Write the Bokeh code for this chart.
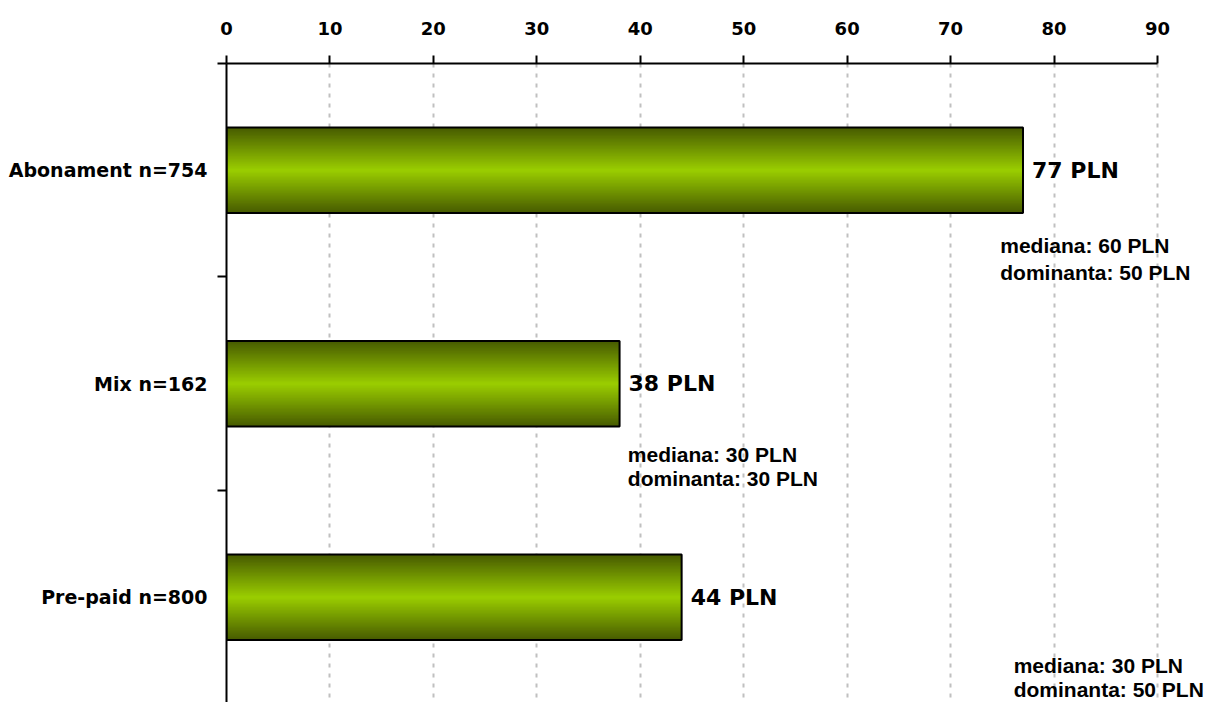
from bokeh.plotting import figure
from bokeh.models import ColumnDataSource, LabelSet, FixedTicker, Range1d
from bokeh.core.properties import value
from bokeh.embed import file_html
from bokeh.resources import INLINE

# ---- data ----
categories = ["Abonament n=754", "Mix n=162", "Pre-paid n=800"]
means = [77, 38, 44]
medians = [60, 30, 30]
modes = [50, 30, 50]
x_ticks = [0, 10, 20, 30, 40, 50, 60, 70, 80, 90]

ypos = list(range(len(categories)))

W, H = 1209, 702
p = figure(width=W, height=H, output_backend="svg", toolbar_location=None,
           x_range=Range1d(0, 95.03), y_range=Range1d(2.493, -0.5),
           x_axis_location="above",
           min_border_left=226, min_border_top=63,
           min_border_right=0, min_border_bottom=0)
p.outline_line_color = None
p.background_fill_color = "white"
p.border_fill_color = "white"

# x axis (top)
xa = p.xaxis[0]
xa.ticker = FixedTicker(ticks=x_ticks)
xa.bounds = (0, 90)
xa.axis_line_width = 2
xa.axis_line_color = "black"
xa.major_tick_line_width = 2
xa.major_tick_line_color = "black"
xa.major_tick_out = 8
xa.major_tick_in = 0
xa.minor_tick_out = 0
xa.minor_tick_in = 0
xa.major_label_text_font = "DejaVu Sans"
xa.major_label_text_font_style = "bold"
xa.major_label_text_font_size = "18px"
xa.major_label_text_color = "black"
xa.major_label_standoff = 21

# y axis (left)
ya = p.yaxis[0]
ya.ticker = FixedTicker(ticks=ypos, minor_ticks=[-0.5, 0.5, 1.5])
ya.major_label_overrides = {i: c for i, c in zip(ypos, categories)}
ya.axis_line_width = 2
ya.axis_line_color = "black"
ya.major_tick_out = 0
ya.major_tick_in = 0
ya.minor_tick_out = 9
ya.minor_tick_in = 0
ya.minor_tick_line_width = 2
ya.minor_tick_line_color = "black"
ya.major_label_text_font = "DejaVu Sans"
ya.major_label_text_font_style = "bold"
ya.major_label_text_font_size = "19px"
ya.major_label_text_color = "black"
ya.major_label_standoff = 10

# grid
p.ygrid.grid_line_color = None
p.xgrid.ticker = FixedTicker(ticks=x_ticks[1:])
p.xgrid.grid_line_color = "#c0c0c0"
p.xgrid.grid_line_dash = "4 6"
p.xgrid.grid_line_width = 2

# gradient bars (nested bars from dark edge to bright center)
dark = (0x48, 0x5c, 0x00)
bright = (0x99, 0xcc, 0x00)
N = 30
bar_h = 0.4
for k in range(N):
    t = k / (N - 1)
    col = "#%02x%02x%02x" % tuple(int(round(d + (b - d) * t)) for d, b in zip(dark, bright))
    p.hbar(y=ypos, left=0, right=means, height=bar_h * (1 - k / N),
           fill_color=col, line_color=None)
p.hbar(y=ypos, left=0, right=means, height=bar_h,
       fill_color=None, line_color="black", line_width=2)

# value labels
vsrc = ColumnDataSource(dict(x=means, y=ypos, text=["%d PLN" % v for v in means]))
p.add_layout(LabelSet(x="x", y="y", text="text", source=vsrc, x_offset=9,
                      text_baseline="middle", text_align="left",
                      text_font=value("DejaVu Sans"), text_font_style="bold",
                      text_font_size="22px", text_color="black"))

# median / mode annotations
ann_x = [74.8, 38.8, 76.1]
ann_dy1 = [0.354, 0.33, 0.318]
ann_dy2 = [0.48, 0.445, 0.434]
asrc = ColumnDataSource(dict(
    x=ann_x + ann_x,
    y=[i + d for i, d in zip(ypos, ann_dy1)] + [i + d for i, d in zip(ypos, ann_dy2)],
    text=["mediana: %d PLN" % m for m in medians] + ["dominanta: %d PLN" % m for m in modes]))
p.add_layout(LabelSet(x="x", y="y", text="text", source=asrc,
                      text_baseline="middle", text_align="left",
                      text_font=value("Liberation Sans"), text_font_style="bold",
                      text_font_size="21px", text_color="black"))

open("out.html", "w").write(file_html(p, INLINE))
